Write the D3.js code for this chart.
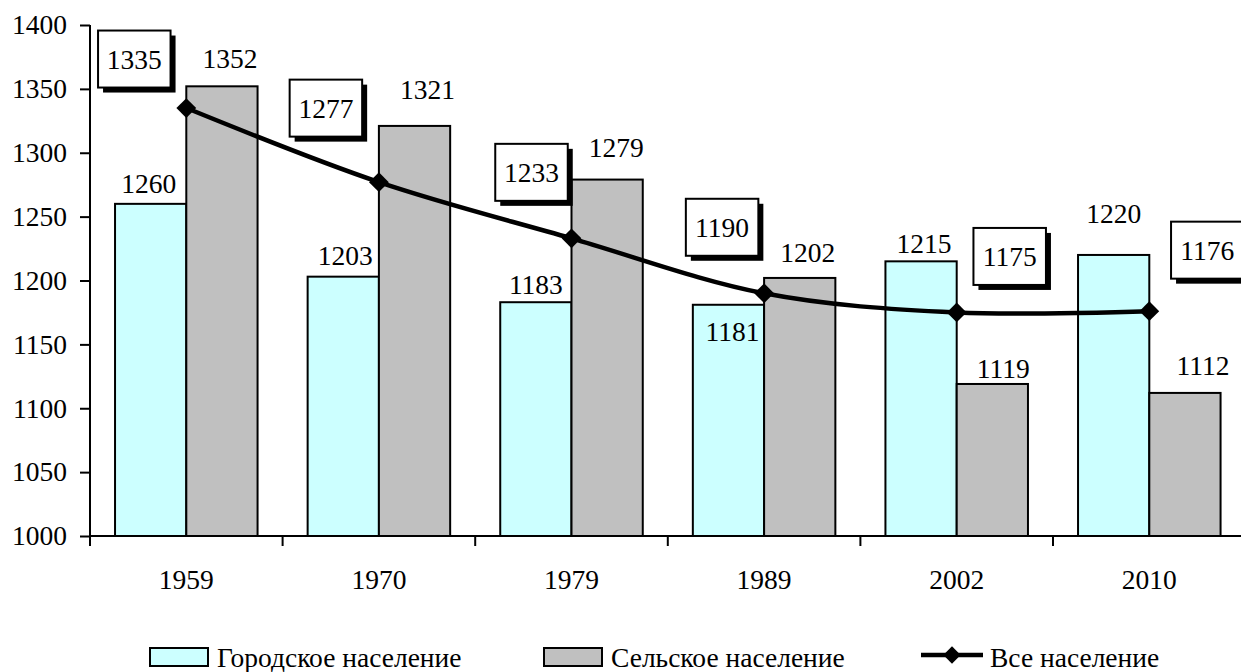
<!DOCTYPE html>
<html>
<head>
<meta charset="utf-8">
<script src="https://cdn.jsdelivr.net/npm/d3@7"></script>
<style>
  html, body { margin: 0; padding: 0; background: #fff; }
  svg text { font-family: "Liberation Serif", "Times New Roman", "DejaVu Serif", serif !important; fill: #000; }
</style>
</head>
<body>
<div id="chart"></div>
<script>
// Census years and population (thousands)
const years = ["1959", "1970", "1979", "1989", "2002", "2010"];
const urban = [1260, 1203, 1183, 1181, 1215, 1220];
const rural = [1352, 1321, 1279, 1202, 1119, 1112];
const total = [1335, 1277, 1233, 1190, 1175, 1176];
const yTicks = [1000, 1050, 1100, 1150, 1200, 1250, 1300, 1350, 1400];
const seriesNames = ["Городское население", "Сельское население", "Все население"];

// hand placed label nudges (like in the original spreadsheet), px
const urbanLabelShift = [[-2, -11], [2, -12], [0, -8], [4, 36], [3, -8], [0, -32]];
const ruralLabelShift = [[8, -18], [13, -27], [9, -23], [8, -16], [11, -6], [18, -18]];
const totalBoxShift = [[-52, -49], [-53, -74], [-40, -66], [-42, -66], [53, -56], [58, -61]];

const W = 1241, H = 672;
const plotLeft = 90, plotTop = 25, plotBottom = 536;
const band = 192.6;
const fontSize = 27.5;
const serif = "'Liberation Serif', 'Times New Roman', serif";

const svg = d3.select("#chart").append("svg")
    .attr("width", W)
    .attr("height", H)
    .attr("font-family", serif);

const x = d3.scaleBand()
    .domain(years)
    .range([plotLeft, plotLeft + band * years.length])
    .padding(0);

const y = d3.scaleLinear()
    .domain([1000, 1400])
    .range([plotBottom, plotTop]);

const bw = x.bandwidth() * 0.37;  // one bar width
const cx = d => x(d) + x.bandwidth() / 2;

// bars
const bars = svg.append("g");
bars.selectAll("rect.urban")
    .data(years)
    .enter().append("rect")
    .attr("class", "urban")
    .attr("x", d => cx(d) - bw)
    .attr("y", (d, i) => y(urban[i]))
    .attr("width", bw)
    .attr("height", (d, i) => y(1000) - y(urban[i]))
    .attr("fill", "#ccffff")
    .attr("stroke", "#000")
    .attr("stroke-width", 2);

bars.selectAll("rect.rural")
    .data(years)
    .enter().append("rect")
    .attr("class", "rural")
    .attr("x", d => cx(d))
    .attr("y", (d, i) => y(rural[i]))
    .attr("width", bw)
    .attr("height", (d, i) => y(1000) - y(rural[i]))
    .attr("fill", "#c0c0c0")
    .attr("stroke", "#000")
    .attr("stroke-width", 2);

// y axis
const yAxis = svg.append("g")
    .attr("transform", `translate(${plotLeft},0)`)
    .call(d3.axisLeft(y).tickValues(yTicks).tickSize(10).tickPadding(13).tickFormat(d3.format("d")))
    .attr("font-family", serif)
    .attr("font-size", fontSize);
yAxis.selectAll("text").attr("fill", "#000");
yAxis.selectAll("line").attr("stroke", "#000").attr("stroke-width", 2);
yAxis.select(".domain").attr("d", `M0,${plotTop}V${plotBottom}`).attr("stroke", "#000").attr("stroke-width", 2);

// x axis, ticks sit between the categories
const xr = x.range();
const xAxis = svg.append("g").attr("transform", `translate(0,${plotBottom})`);
xAxis.append("line")
    .attr("x1", xr[0]).attr("x2", xr[1])
    .attr("stroke", "#000").attr("stroke-width", 2);
xAxis.selectAll("line.tick")
    .data(years)
    .enter().append("line")
    .attr("class", "tick")
    .attr("x1", d => x(d)).attr("x2", d => x(d))
    .attr("y1", 0).attr("y2", 10)
    .attr("stroke", "#000").attr("stroke-width", 2);
xAxis.selectAll("text")
    .data(years)
    .enter().append("text")
    .attr("x", d => cx(d))
    .attr("y", 53)
    .attr("text-anchor", "middle")
    .attr("font-size", fontSize)
    .text(d => d);

// total population, smoothed line
const line = d3.line()
    .x(d => cx(d[0]))
    .y(d => y(d[1]))
    .curve(d3.curveCatmullRom.alpha(0));
const pts = years.map((d, i) => [d, total[i]]);

svg.append("path")
    .datum(pts)
    .attr("d", line)
    .attr("fill", "none")
    .attr("stroke", "#000")
    .attr("stroke-width", 4.5);

const diamond = d3.symbol().type(d3.symbolDiamond2).size(250);
svg.selectAll("path.marker")
    .data(pts)
    .enter().append("path")
    .attr("class", "marker")
    .attr("d", diamond)
    .attr("transform", d => `translate(${cx(d[0])},${y(d[1])})`)
    .attr("fill", "#000");

// bar value labels
const labels = svg.append("g").attr("font-size", fontSize).attr("text-anchor", "middle");
labels.selectAll("text.u")
    .data(years)
    .enter().append("text")
    .attr("class", "u")
    .attr("x", (d, i) => cx(d) - bw / 2 + urbanLabelShift[i][0])
    .attr("y", (d, i) => y(urban[i]) + urbanLabelShift[i][1])
    .text((d, i) => urban[i]);
labels.selectAll("text.r")
    .data(years)
    .enter().append("text")
    .attr("class", "r")
    .attr("x", (d, i) => cx(d) + bw / 2 + ruralLabelShift[i][0])
    .attr("y", (d, i) => y(rural[i]) + ruralLabelShift[i][1])
    .text((d, i) => rural[i]);

// boxed labels for the total
const boxW = 72.5, boxH = 57;
const boxes = svg.selectAll("g.box")
    .data(pts)
    .enter().append("g")
    .attr("class", "box")
    .attr("transform", (d, i) => `translate(${cx(d[0]) + totalBoxShift[i][0]},${y(d[1]) + totalBoxShift[i][1]})`);
boxes.append("rect")
    .attr("x", -boxW / 2 + 5).attr("y", -boxH / 2 + 5)
    .attr("width", boxW).attr("height", boxH)
    .attr("fill", "#000");
boxes.append("rect")
    .attr("x", -boxW / 2).attr("y", -boxH / 2)
    .attr("width", boxW).attr("height", boxH)
    .attr("fill", "#fff")
    .attr("stroke", "#000")
    .attr("stroke-width", 2);
boxes.append("text")
    .attr("text-anchor", "middle")
    .attr("dy", "0.35em")
    .attr("font-size", fontSize)
    .text(d => d[1]);

// legend
const legend = svg.append("g").attr("font-size", fontSize);
const legY = 657;
legend.append("rect")
    .attr("x", 150).attr("y", legY - 9).attr("width", 58).attr("height", 18)
    .attr("fill", "#ccffff").attr("stroke", "#000").attr("stroke-width", 2);
legend.append("text").attr("x", 217).attr("y", 667).text(seriesNames[0]);
legend.append("rect")
    .attr("x", 544).attr("y", legY - 9).attr("width", 58).attr("height", 18)
    .attr("fill", "#c0c0c0").attr("stroke", "#000").attr("stroke-width", 2);
legend.append("text").attr("x", 611).attr("y", 667).text(seriesNames[1]);
legend.append("line")
    .attr("x1", 921).attr("x2", 983).attr("y1", 655).attr("y2", 655)
    .attr("stroke", "#000").attr("stroke-width", 4.5);
legend.append("path")
    .attr("d", d3.symbol().type(d3.symbolDiamond2).size(190))
    .attr("transform", "translate(952,655)");
legend.append("text").attr("x", 990).attr("y", 667).text(seriesNames[2]);
</script>
</body>
</html>
